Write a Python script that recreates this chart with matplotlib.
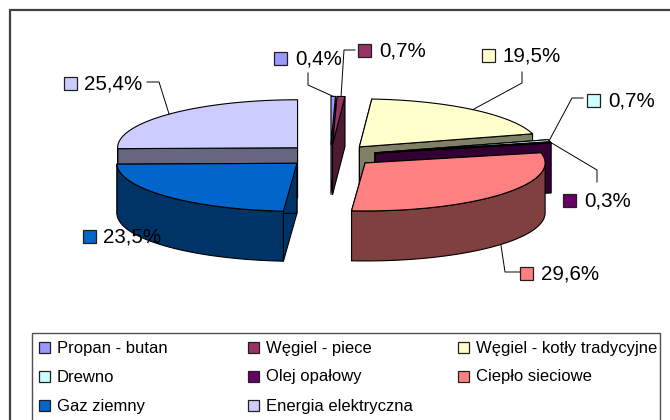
import numpy as np
import matplotlib

matplotlib.use("Agg")
import matplotlib.pyplot as plt
from matplotlib.patches import Polygon, Rectangle

plt.rcParams["font.family"] = ["Liberation Sans", "DejaVu Sans"]

categories = [
    "Propan - butan",
    "Węgiel - piece",
    "Węgiel - kotły tradycyjne",
    "Drewno",
    "Olej opałowy",
    "Ciepło sieciowe",
    "Gaz ziemny",
    "Energia elektryczna",
]
values = [0.4, 0.7, 19.5, 0.7, 0.3, 29.6, 23.5, 25.4]
colors = ["#9999FF", "#993366", "#FFFFCC", "#CCFFFF", "#660066", "#FF8080", "#0066CC", "#CCCCFF"]

# pie projection, in pixels
CENTER_X, CENTER_Y = 330.4, 155.6
RX, RY = 180, 48
EXPLODE_X, EXPLODE_Y = 46, 11.2
DEPTH = 50

# key x, key y (centre), text x for each value label
label_pos = [
    (274, 58, 295),
    (358, 50, 379),
    (482, 55, 503),
    (587, 100, 608),
    (563, 200, 584),
    (520, 273, 541),
    (83, 236, 103),
    (64, 83, 84),
]
# leader lines: label end, elbow (None = no leader). They run on to the slice rim.
leaders = [
    ((308, 73), (308, 85)),
    ((355, 50), (344, 50)),
    ((522, 72), (522, 83)),
    ((583, 98), (572, 98)),
    ((597, 182), (597, 170)),
    ((520, 272), (505, 272)),
    None,
    ((147, 82), (159, 82)),
]
KEY = 13

fig = plt.figure(figsize=(6.7, 4.2), dpi=100)
ax = fig.add_axes([0, 0, 1, 1])
ax.set_xlim(0, 670)
ax.set_ylim(420, 0)
ax.axis("off")

# outer chart frame runs off the picture on the right and bottom
ax.add_patch(Rectangle((10, 10), 700, 450, fc="white", ec="#404040", lw=1.6))


def darker(color):
    r, g, b = matplotlib.colors.to_rgb(color)
    return (r * 0.5, g * 0.5, b * 0.5)


def rim(cx, cy, angles):
    a = np.radians(angles)
    return np.column_stack([cx + RX * np.sin(a), cy - RY * np.cos(a)])


def poly(points, color, z):
    ax.add_patch(Polygon(points, closed=True, fc=color, ec="black", lw=0.8, joinstyle="round", zorder=z))


# start and end angle of each slice, clockwise from 12 o'clock
ends = np.minimum(np.cumsum(values) * 3.6, 360)
starts = np.cumsum(values) * 3.6 - np.array(values) * 3.6
mids = (starts + ends) / 2
centers = [
    (CENTER_X + EXPLODE_X * np.sin(np.radians(m)), CENTER_Y - EXPLODE_Y * np.cos(np.radians(m)))
    for m in mids
]

# back to front
order = [0, 1, 7, 2, 3, 4, 5, 6]
z = 2
for i in order:
    cx, cy = centers[i]
    side = darker(colors[i])
    down = np.array([0, DEPTH])
    apex = np.array([[cx, cy]])
    for ang in (starts[i], ends[i]):
        edge = rim(cx, cy, [ang])
        # a wall seen exactly edge on would only thicken the outline
        if abs(edge[0, 0] - cx) < 1:
            continue
        poly(np.vstack([apex, edge, edge + down, apex + down]), side, z)
        z += 1
    lo, hi = max(starts[i], 90), min(ends[i], 270)
    if hi > lo:
        arc = rim(cx, cy, np.linspace(lo, hi, 60))
        poly(np.vstack([arc, arc[::-1] + down]), side, z)
        z += 1
    arc = rim(cx, cy, np.linspace(starts[i], ends[i], 60))
    poly(np.vstack([apex, arc]), colors[i], z)
    z += 1

# value labels with their keys and leader lines
for i, v in enumerate(values):
    kx, ky, tx = label_pos[i]
    ax.add_patch(Rectangle((kx, ky - KEY / 2), KEY, KEY, fc=colors[i], ec="#202020", lw=0.9, zorder=50))
    ax.text(tx, ky + 1, f"{v:.1f}%".replace(".", ","), fontsize=14.8, va="center", ha="left", color="black", zorder=51)
    if leaders[i] is not None:
        tip = rim(centers[i][0], centers[i][1], [mids[i]])[0]
        if 90 < mids[i] < 270:
            tip = tip + [0, DEPTH]
        xs = [leaders[i][0][0], leaders[i][1][0], tip[0]]
        ys = [leaders[i][0][1], leaders[i][1][1], tip[1]]
        ax.plot(xs, ys, color="black", lw=0.7, zorder=49)

# legend box, cut off by the bottom of the picture
ax.add_patch(Rectangle((32, 333), 628, 120, fc="white", ec="#505050", lw=1.0, zorder=60))
col_x = [39, 248, 458]
row_y = [347, 376, 405]
for i, name in enumerate(categories):
    x = col_x[i % 3]
    y = row_y[i // 3]
    ax.add_patch(Rectangle((x, y - 5.5), 11, 11, fc=colors[i], ec="#202020", lw=0.9, zorder=61))
    ax.text(x + 18, y + 1, name, fontsize=12.0, va="center", ha="left", color="black", zorder=61)

fig.savefig("out.png", dpi=100)
